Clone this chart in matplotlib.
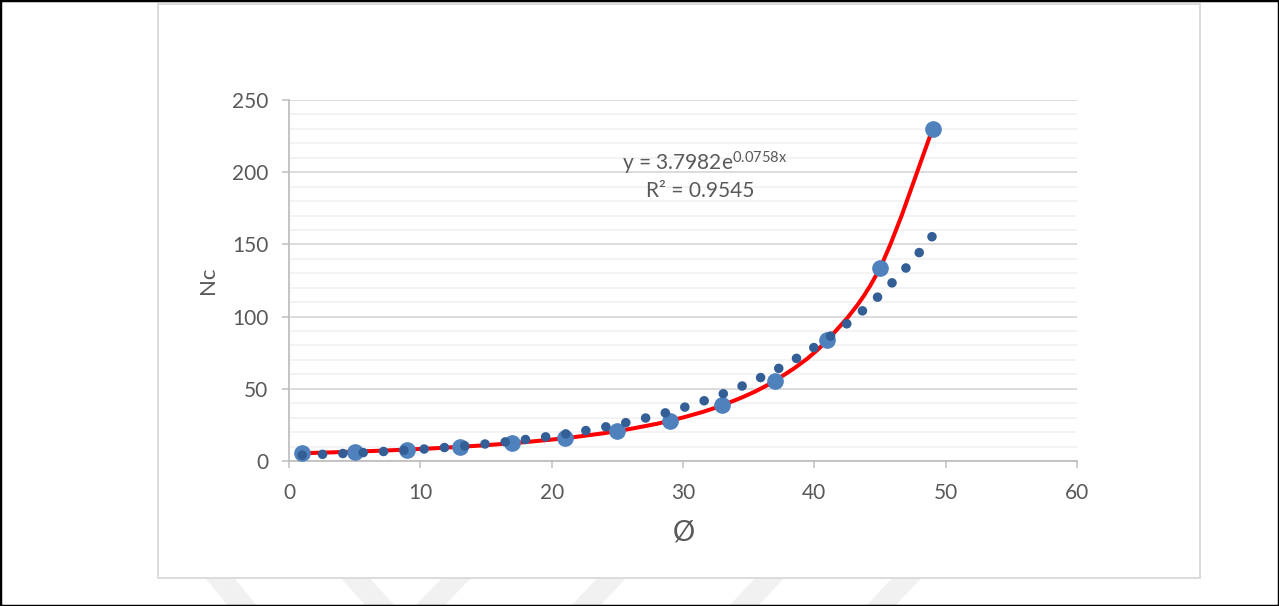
import matplotlib.pyplot as plt
import numpy as np
from matplotlib.path import Path
from matplotlib.patches import PathPatch, Rectangle, Polygon

plt.rcParams['font.family'] = ['Lato', 'DejaVu Sans']
plt.rcParams['mathtext.fontset'] = 'custom'
plt.rcParams['mathtext.rm'] = 'Lato'
plt.rcParams['mathtext.it'] = 'Lato:italic'

# bearing capacity factor Nc against friction angle
phi = [1, 5, 9, 13, 17, 21, 25, 29, 33, 37, 41, 45, 49]
nc = [5.38, 6.49, 7.92, 9.81, 12.34, 15.82, 20.72, 27.86, 38.64, 55.63, 83.86, 133.88, 229.93]

# exponential trendline y = a*e^(b*x)
fit_a = 3.7982
fit_b = 0.0758
fit_r2 = 0.9545

W, H = 1279, 606


def px(x, y):
    # pixel position (from top-left) -> figure fraction
    return (x / W, 1 - y / H)


def smooth_path(x, y):
    # bezier curve through the points, spreadsheet style smoothing
    pts = np.column_stack([x, y]).astype(float)
    n = len(pts)
    verts = [pts[0]]
    codes = [Path.MOVETO]
    for i in range(n - 1):
        p0 = pts[max(i - 1, 0)]
        p1 = pts[i]
        p2 = pts[i + 1]
        p3 = pts[min(i + 2, n - 1)]
        verts += [p1 + (p2 - p0) / 6, p2 - (p3 - p1) / 6, p2]
        codes += [Path.CURVE4] * 3
    return Path(verts, codes)


fig = plt.figure(figsize=(W / 100, H / 100), dpi=100)

# faint watermark stripes below the chart box
stripes = [
    [(203, 575), (232, 575), (257, 606), (228, 606)],
    [(338, 575), (367, 575), (395, 606), (366, 606)],
    [(445, 575), (474, 575), (444, 606), (415, 606)],
    [(600, 575), (629, 575), (600, 606), (571, 606)],
    [(758, 575), (787, 575), (758, 606), (729, 606)],
    [(895, 575), (924, 575), (895, 606), (866, 606)],
]
for s in stripes:
    fig.patches.append(Polygon([px(*p) for p in s], closed=True, transform=fig.transFigure,
                               facecolor='#F1F1F1', edgecolor='none', zorder=-3))

# chart box
x0, y0 = px(158, 578)
x1, y1 = px(1200, 4)
fig.patches.append(Rectangle((x0, y0), x1 - x0, y1 - y0, transform=fig.transFigure,
                             facecolor='white', edgecolor='#D9D9D9', lw=1.3, zorder=-2))
# outer frame
fig.patches.append(Rectangle((0, 0), 1, 1, transform=fig.transFigure, fill=False,
                             edgecolor='black', lw=2.5, zorder=5))

ax = fig.add_axes([289 / W, 145 / H, 788 / W, 361 / H])
ax.set_facecolor('none')
ax.set_xlim(0, 60)
ax.set_ylim(0, 250)

ax.add_patch(PathPatch(smooth_path(phi, nc), fill=False, edgecolor='#FF0000', lw=2.9,
                       capstyle='round', joinstyle='round', zorder=3))
ax.plot(phi, nc, ls='none', marker='o', ms=11, color='#4F81BD', mec='#4F81BD', zorder=4)

# round-dot trendline; spacing evened out so a dot lands at each end
xt = np.linspace(phi[0], phi[-1], 800)
yt = fit_a * np.exp(fit_b * xt)
dot_lw = 6.9
disp = ax.transData.transform(np.column_stack([xt, yt]))
arc = np.hypot(*np.diff(disp, axis=0).T).sum()
step = arc / round(arc / 20.4) / (dot_lw * 100 / 72) - 0.003
ax.plot(xt, yt, color='#335F96', lw=dot_lw,
        ls=(0, (0.01, step - 0.01)), dash_capstyle='round', zorder=5)

ax.text(0.528, 0.825, r'y = 3.7982e$^{\mathrm{%.4f}\mathrm{x}}$' % fit_b, transform=ax.transAxes,
        ha='center', va='center', fontsize=15, color='#595959')
ax.text(0.522, 0.748, 'R² = %.4f' % fit_r2, transform=ax.transAxes,
        ha='center', va='center', fontsize=15, color='#595959')

ax.set_xticks(range(0, 61, 10))
ax.set_yticks(range(0, 251, 50))
ax.set_yticks(range(0, 251, 10), minor=True)
ax.tick_params(which='minor', length=0)
ax.tick_params(which='major', length=5, width=1.1, color='#BFBFBF', labelcolor='#595959',
               labelsize=15)
ax.tick_params(axis='y', pad=10)
ax.tick_params(axis='x', pad=11)
ax.set_axisbelow(True)
ax.grid(which='minor', axis='y', color='#F2F2F2', lw=1.3)
ax.grid(which='major', axis='y', color='#D9D9D9', lw=1.3)

for side in ['top', 'right']:
    ax.spines[side].set_visible(False)
for side in ['left', 'bottom']:
    ax.spines[side].set_color('#BFBFBF')
    ax.spines[side].set_linewidth(1.3)

fig.text(*px(208, 280), 'Nc', rotation=90, ha='center', va='center', fontsize=16, color='#595959')
fig.text(*px(684, 532), 'Ø', ha='center', va='center', fontsize=20, color='#595959')

fig.savefig('out.png', dpi=100)
